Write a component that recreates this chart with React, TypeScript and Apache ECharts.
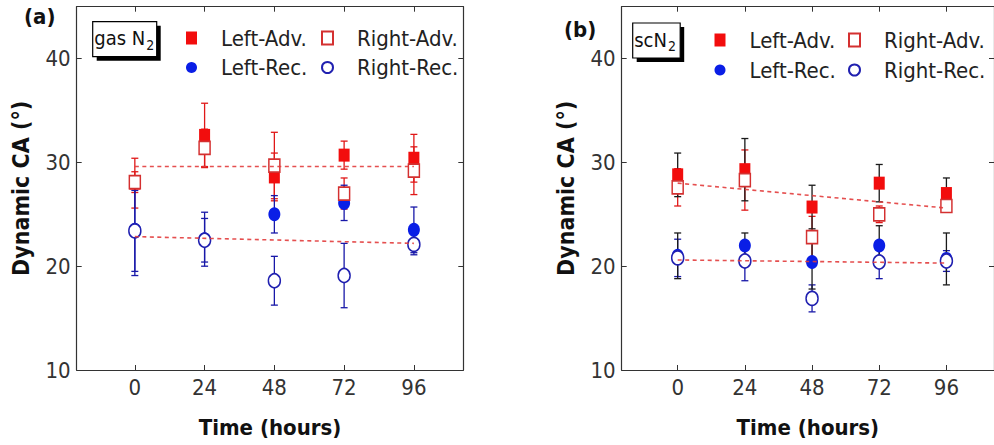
import React, { useEffect, useRef } from "react";
import * as echarts from "echarts";

// ---------- data ----------
const timeHours = [0, 24, 48, 72, 96];
const xTickValues = [0, 24, 48, 72, 96];
const yTickValues = [10, 20, 30, 40];
const fitX = [0, 96];

// panel (a) gas N2
const aLeftAdv = [28.0, 32.6, 28.6, 30.7, 30.4];
const aLeftAdvErr = [2.4, 3.1, 2.3, 1.35, 2.3];
const aRightAdv = [28.1, 31.4, 29.7, 27.0, 29.2];
const aRightAdvErr = [1.0, 1.8, 3.2, 1.5, 2.3];
const aLeftRec = [23.5, 22.6, 25.0, 26.1, 23.5];
const aLeftRecErr = [4.4, 2.6, 1.8, 1.7, 2.2];
const aRightRec = [23.4, 22.5, 18.6, 19.1, 22.1];
const aRightRecErr = [3.9, 2.1, 2.35, 3.1, 1.0];
const aFitAdv = [29.6, 29.6];
const aFitRec = [22.85, 22.2];

// panel (b) scN2
const bLeftAdv = [28.8, 29.3, 25.7, 28.0, 27.0];
const bLeftAdvErr = [2.1, 3.0, 2.1, 1.8, 1.5];
const bRightAdv = [27.6, 28.3, 22.8, 25.0, 25.8];
const bRightAdvErr = [1.8, 2.9, 2.0, 0.8, 0.6];
const bLeftRec = [21.0, 22.0, 20.4, 22.0, 20.7];
const bLeftRecErr = [2.2, 1.2, 2.6, 1.9, 2.5];
const bRightRec = [20.8, 20.5, 16.9, 20.4, 20.5];
const bRightRecErr = [1.8, 1.9, 1.3, 1.6, 1.0];
const bFitAdv = [28.0, 25.6];
const bFitRec = [20.6, 20.3];

const seriesNames = ["Left-Adv.", "Right-Adv.", "Left-Rec.", "Right-Rec."];

// ---------- style ----------
const FONT = "'DejaVu Sans Condensed', 'DejaVu Sans', sans-serif";
const RED = "#f20d0d";
const RED_OPEN = "#d43030";
const BLUE = "#0a1ee6";
const BLUE_OPEN = "#2020b0";
const RED_BAR = "#e01818";
const BLUE_BAR = "#1818a8";
const BLACK_BAR = "#1a1a1a";
const AXIS = "#333";
const SQ: [number, number] = [11, 13];
const CI: [number, number] = [12, 14];

function pts(xs: number[], ys: number[]) {
  return xs.map((x, i) => [x, ys[i]]);
}

function errorBars(p: number, ys: number[], errs: number[], color: string) {
  return {
    type: "custom",
    xAxisIndex: 2 * p,
    yAxisIndex: 2 * p,
    z: 2,
    silent: true,
    encode: { x: 0, y: 1 },
    data: timeHours.map((x, i) => [x, ys[i], errs[i]]),
    renderItem: (params: any, api: any) => {
      const x = api.value(0);
      const y = api.value(1);
      const e = api.value(2);
      const t = api.coord([x, y + e]);
      const b = api.coord([x, y - e]);
      const w = 3.5;
      const st = { stroke: color, lineWidth: 1.3 };
      return {
        type: "group",
        children: [
          { type: "line", shape: { x1: t[0], y1: t[1], x2: b[0], y2: b[1] }, style: st },
          { type: "line", shape: { x1: t[0] - w, y1: t[1], x2: t[0] + w, y2: t[1] }, style: st },
          { type: "line", shape: { x1: b[0] - w, y1: b[1], x2: b[0] + w, y2: b[1] }, style: st },
        ],
      };
    },
  };
}

function marker(p: number, name: string, ys: number[], symbol: string, open: boolean, color: string, z: number) {
  return {
    type: "scatter",
    name,
    xAxisIndex: 2 * p,
    yAxisIndex: 2 * p,
    z,
    symbol,
    symbolSize: symbol === "circle" ? CI : SQ,
    data: pts(timeHours, ys),
    itemStyle: open
      ? { color: "#ffffff", borderColor: color, borderWidth: 1.6, opacity: 1 }
      : { color, borderColor: color, borderWidth: 0, opacity: 1 },
  };
}

function fitLine(p: number, ys: number[]) {
  return {
    type: "line",
    xAxisIndex: 2 * p,
    yAxisIndex: 2 * p,
    z: 6,
    symbol: "none",
    silent: true,
    data: pts(fitX, ys),
    lineStyle: { color: "#e23c3c", width: 1.6, type: [4, 3.5], opacity: 0.9 },
  };
}

function axesFor(p: number) {
  const common = {
    gridIndex: p,
    type: "value",
    splitLine: { show: false },
    axisLine: { show: true, onZero: false, lineStyle: { color: AXIS, width: 1.2 } },
  };
  const labelStyle = { fontFamily: FONT, fontSize: 22, color: "#333" };
  const nameStyle = { fontFamily: FONT, fontSize: 23, fontWeight: "bold", color: "#111" };
  const x = [
    {
      ...common,
      position: "bottom",
      min: -20,
      max: 113,
      axisTick: { show: true, inside: true, length: 5, customValues: xTickValues, lineStyle: { color: AXIS } },
      axisLabel: { show: true, customValues: xTickValues, margin: 6, ...labelStyle },
      name: "Time (hours)",
      nameLocation: "middle",
      nameGap: 46,
      nameTextStyle: { ...nameStyle, fontSize: 22 },
    },
    {
      ...common,
      position: "top",
      min: -20,
      max: 113,
      axisTick: { show: true, inside: true, length: 5, customValues: xTickValues, lineStyle: { color: AXIS } },
      axisLabel: { show: false },
    },
  ];
  const y = [
    {
      ...common,
      position: "left",
      min: 10,
      max: 45,
      interval: 10,
      axisTick: { show: true, inside: true, length: 5, customValues: yTickValues, lineStyle: { color: AXIS } },
      axisLabel: { show: true, customValues: yTickValues, margin: 6, ...labelStyle },
      name: "Dynamic CA (°)",
      nameLocation: "middle",
      nameRotate: 90,
      nameGap: 44,
      nameTextStyle: nameStyle,
    },
    {
      ...common,
      position: "right",
      min: 10,
      max: 45,
      interval: 10,
      axisTick: { show: true, inside: true, length: 5, customValues: yTickValues, lineStyle: { color: AXIS } },
      axisLabel: { show: false },
    },
  ];
  return { x, y };
}

function legendItem(name: string, left: number, cy: number) {
  return {
    data: [name],
    left,
    top: cy - 13,
    padding: 0,
    itemWidth: SQ[0],
    itemHeight: SQ[1],
    selectedMode: false,
    textStyle: { fontFamily: FONT, fontSize: 22, color: "#222", padding: [0, 0, 0, 19] },
  };
}

function labelBox(x: number, y: number, w: number, h: number, main: string, sub: string) {
  return {
    type: "group",
    children: [
      { type: "rect", shape: { x: x + 4, y: y + 4, width: w, height: h }, style: { fill: "#000" } },
      { type: "rect", shape: { x, y, width: w, height: h }, style: { fill: "#fff", stroke: "#000", lineWidth: 1.2 } },
      {
        type: "text",
        x: x + 1.5,
        y: y + h / 2 - 1,
        style: {
          text: `{m|${main}}{s|${sub}}`,
          verticalAlign: "middle",
          rich: {
            m: { fontFamily: FONT, fontSize: 20, fill: "#111" },
            s: { fontFamily: FONT, fontSize: 14, fill: "#111", padding: [13, 0, 0, 1] },
          },
        },
      },
    ],
  };
}

function buildOption() {
  const ax0 = axesFor(0);
  const ax1 = axesFor(1);
  return {
    animation: false,
    backgroundColor: "#ffffff",
    grid: [
      { left: 76.7, top: 6.7, width: 386.6, height: 363.3 },
      { left: 621.7, top: 6.7, width: 379, height: 363.3 },
    ],
    xAxis: [...ax0.x, ...ax1.x],
    yAxis: [...ax0.y, ...ax1.y],
    legend: [
      legendItem(seriesNames[0], 186, 40),
      legendItem(seriesNames[1], 321, 40),
      legendItem(seriesNames[2], 186, 69.5),
      legendItem(seriesNames[3], 321, 69.5),
      legendItem(seriesNames[0], 714.5, 42),
      legendItem(seriesNames[1], 848, 42),
      legendItem(seriesNames[2], 714.5, 72),
      legendItem(seriesNames[3], 848, 72),
    ],
    series: [
      // panel a
      errorBars(0, aLeftAdv, aLeftAdvErr, RED_BAR),
      errorBars(0, aRightAdv, aRightAdvErr, RED_BAR),
      errorBars(0, aLeftRec, aLeftRecErr, BLUE_BAR),
      errorBars(0, aRightRec, aRightRecErr, BLUE_BAR),
      marker(0, seriesNames[0], aLeftAdv, "rect", false, RED, 3),
      marker(0, seriesNames[2], aLeftRec, "circle", false, BLUE, 3),
      marker(0, seriesNames[1], aRightAdv, "rect", true, RED_OPEN, 4),
      marker(0, seriesNames[3], aRightRec, "circle", true, BLUE_OPEN, 4),
      fitLine(0, aFitAdv),
      fitLine(0, aFitRec),
      // panel b
      errorBars(1, bRightAdv, bRightAdvErr, RED_BAR),
      errorBars(1, bRightRec, bRightRecErr, BLUE_BAR),
      errorBars(1, bLeftAdv, bLeftAdvErr, BLACK_BAR),
      errorBars(1, bLeftRec, bLeftRecErr, BLACK_BAR),
      marker(1, seriesNames[0], bLeftAdv, "rect", false, RED, 3),
      marker(1, seriesNames[2], bLeftRec, "circle", false, BLUE, 3),
      marker(1, seriesNames[1], bRightAdv, "rect", true, RED_OPEN, 4),
      marker(1, seriesNames[3], bRightRec, "circle", true, BLUE_OPEN, 4),
      fitLine(1, bFitAdv),
      fitLine(1, bFitRec),
    ],
    graphic: [
      {
        type: "text",
        left: 24,
        top: 5,
        style: { text: "(a)", fontFamily: FONT, fontSize: 22, fontWeight: "bold", fill: "#111" },
      },
      {
        type: "text",
        left: 564,
        top: 18,
        style: { text: "(b)", fontFamily: FONT, fontSize: 22, fontWeight: "bold", fill: "#111" },
      },
      labelBox(92.7, 21.7, 64, 35, "gas N", "2"),
      labelBox(632.7, 23, 47.5, 35, "scN", "2"),
    ],
  };
}

export default function App() {
  const ref = useRef<HTMLDivElement>(null);
  useEffect(() => {
    if (!ref.current) return;
    const chart = echarts.init(ref.current, null, { renderer: "svg" });
    chart.setOption(buildOption() as any);
    return () => chart.dispose();
  }, []);
  return (
    <div
      ref={ref}
      style={{ position: "absolute", left: 0, top: 0, width: 994, height: 445, background: "#fff", overflow: "hidden" }}
    />
  );
}
